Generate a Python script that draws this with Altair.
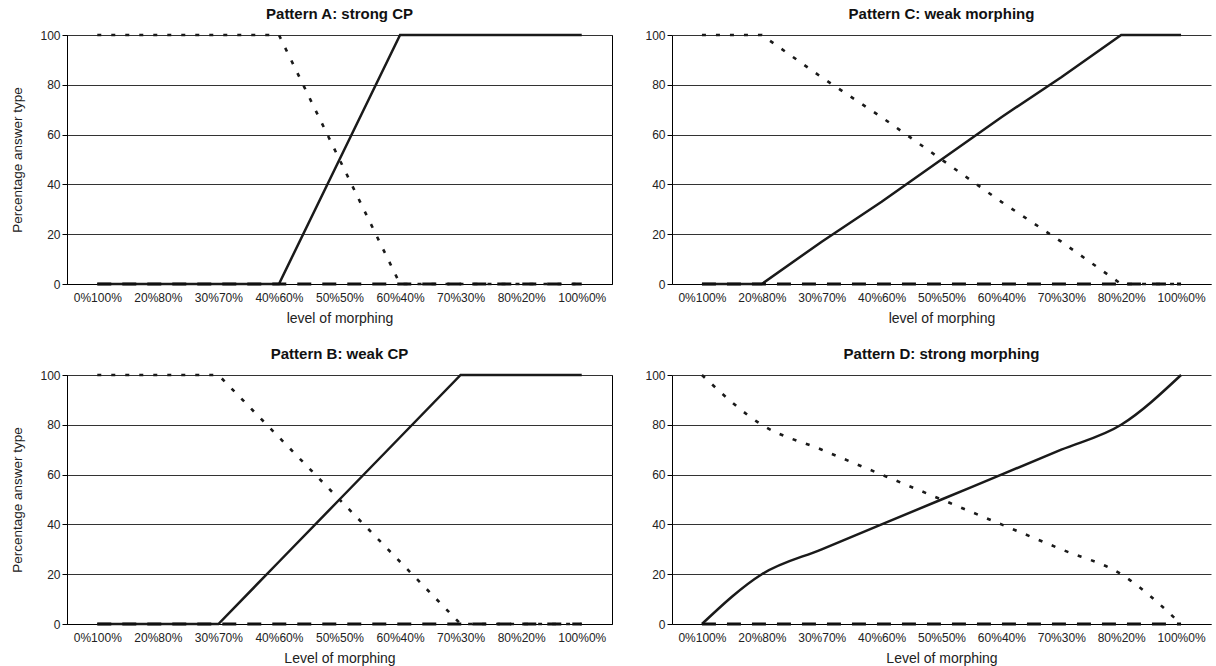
import altair as alt
import pandas as pd

# Morphing levels shown on the x axis (share of face 1 / share of face 2)
levels = ["0%100%", "20%80%", "30%70%", "40%60%", "50%50%",
          "60%40%", "70%30%", "80%20%", "100%0%"]

# Pattern A: strong categorical perception
a_solid = [0, 0, 0, 0, 50, 100, 100, 100, 100]
a_dotted = [100, 100, 100, 100, 50, 0, 0, 0, 0]
a_dashed = [0, 0, 0, 0, 0, 0, 0, 0, 0]

# Pattern B: weak categorical perception
b_solid = [0, 0, 0, 25, 50, 75, 100, 100, 100]
b_dotted = [100, 100, 100, 75, 50, 25, 0, 0, 0]
b_dashed = [0, 0, 0, 0, 0, 0, 0, 0, 0]

# Pattern C: weak morphing
c_solid = [0, 0, 17, 33, 50, 67, 83, 100, 100]
c_dotted = [100, 100, 83, 67, 50, 33, 17, 0, 0]
c_dashed = [0, 0, 0, 0, 0, 0, 0, 0, 0]

# Pattern D: strong morphing
d_solid = [0, 20, 30, 40, 50, 60, 70, 80, 100]
d_dotted = [100, 80, 70, 60, 50, 40, 30, 20, 0]
d_dashed = [0, 0, 0, 0, 0, 0, 0, 0, 0]

FONT = "Liberation Sans"
LEFT_W, RIGHT_W, PANEL_H = 545, 539, 249


def panel(title, solid, dotted, dashed, x_title, y_title, interp, width, framed):
    rows = []
    for name, vals in (("solid", solid), ("dotted", dotted), ("dashed", dashed)):
        for lvl, v in zip(levels, vals):
            rows.append({"level": lvl, "value": v, "series": name})
    df = pd.DataFrame(rows)

    y_axis_args = dict(values=[0, 20, 40, 60, 80, 100], grid=True,
                       gridColor="#333333", gridWidth=1, domainColor="#000000",
                       tickColor="#000000", tickSize=5, labelPadding=2,
                       labelFontSize=12, labelColor="#222222")
    if y_title:
        y_axis_args.update(title=y_title, titleFontSize=13.5, titleFontWeight="normal",
                           titlePadding=15, titleColor="#222222")
    else:
        y_axis_args.update(title=None)

    base = alt.Chart(df).encode(
        x=alt.X("level:O", sort=levels, scale=alt.Scale(padding=0.5),
                axis=alt.Axis(title=x_title, labelAngle=0, ticks=False, tickSize=0,
                              labelPadding=8, labelFontSize=12, labelColor="#222222",
                              domainColor="#000000", grid=False,
                              titleFontSize=14, titleFontWeight="normal",
                              titlePadding=8, titleColor="#222222")),
        y=alt.Y("value:Q", scale=alt.Scale(domain=[0, 100], nice=False),
                axis=alt.Axis(**y_axis_args)),
    )

    solid_line = base.transform_filter(alt.datum.series == "solid").mark_line(
        color="#1a1a1a", strokeWidth=2.5, interpolate=interp)
    dotted_line = base.transform_filter(alt.datum.series == "dotted").mark_line(
        color="#1a1a1a", strokeWidth=2.6, strokeDash=[4, 10], interpolate=interp)
    dashed_line = base.transform_filter(alt.datum.series == "dashed").mark_line(
        color="#111111", strokeWidth=3, strokeDash=[14, 11], interpolate=interp)

    return alt.layer(solid_line, dotted_line, dashed_line).properties(
        width=width, height=PANEL_H,
        title=alt.TitleParams(title, fontSize=15, fontWeight="bold", font=FONT,
                              color="#111111", offset=7),
        view=alt.ViewBackground(stroke="#000000" if framed else "transparent",
                                strokeWidth=1),
    )


pa = panel("Pattern A: strong CP", a_solid, a_dotted, a_dashed,
           "level of morphing", "Percentage answer type", "linear", LEFT_W, True)
pc = panel("Pattern C: weak morphing", c_solid, c_dotted, c_dashed,
           "level of morphing", None, "linear", RIGHT_W, False)
pb = panel("Pattern B: weak CP", b_solid, b_dotted, b_dashed,
           "Level of morphing", "Percentage answer type", "linear", LEFT_W, True)
pd_ = panel("Pattern D: strong morphing", d_solid, d_dotted, d_dashed,
            "Level of morphing", None, "monotone", RIGHT_W, False)

chart = alt.vconcat(
    alt.hconcat(pa, pc, spacing=31),
    alt.hconcat(pb, pd_, spacing=31),
    spacing=20,
).properties(
    padding={"left": 10, "top": 6, "right": 0, "bottom": 0},
    background="white",
).configure(font=FONT).configure_view(stroke="#000000")

chart.save("out.html", embed_options={"renderer": "svg", "actions": False})
